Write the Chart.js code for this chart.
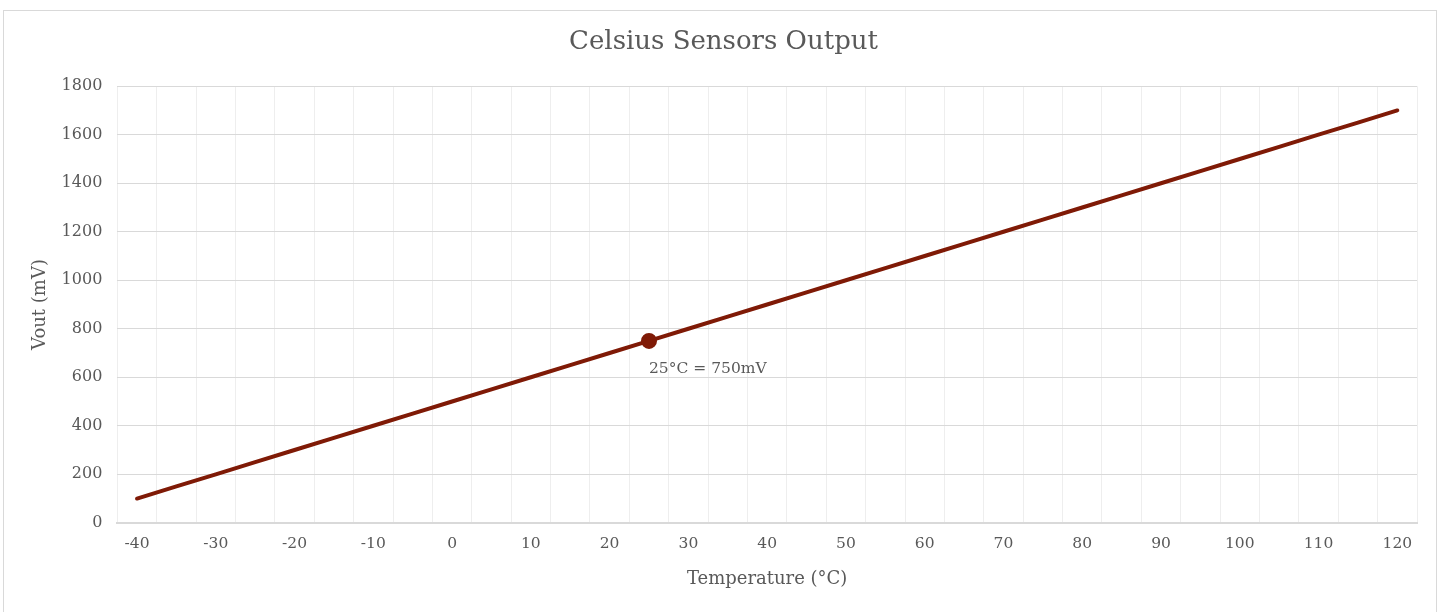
<!DOCTYPE html>
<html>
<head>
<meta charset="utf-8">
<script src="https://cdn.jsdelivr.net/npm/chart.js@4"></script>
<style>
  html, body { margin: 0; padding: 0; background: #fff; }
  #box {
    position: absolute; left: 3px; top: 10px;
    width: 1434px; height: 620px;
    border: 1px solid #d9d9d9; box-sizing: border-box;
  }
</style>
</head>
<body>
<div id="box"><canvas id="chart"></canvas></div>
<script>
// Celsius sensor output, every 5 degrees
const temps = [-40, -35, -30, -25, -20, -15, -10, -5, 0, 5, 10, 15, 20, 25, 30, 35, 40,
  45, 50, 55, 60, 65, 70, 75, 80, 85, 90, 95, 100, 105, 110, 115, 120];
const vout = [100, 150, 200, 250, 300, 350, 400, 450, 500, 550, 600, 650, 700, 750, 800, 850, 900,
  950, 1000, 1050, 1100, 1150, 1200, 1250, 1300, 1350, 1400, 1450, 1500, 1550, 1600, 1650, 1700];
const markTemp = 25;
const markLabel = '25°C = 750mV';

const FONT = "'DejaVu Serif', 'Liberation Serif', serif";
const TEXT = '#595959';
const LINE = '#7f1a06';

const markIdx = temps.indexOf(markTemp);

// --- annotation for the 25°C point ---
const markLabelPlugin = {
  id: 'markLabel',
  afterDatasetsDraw(chart) {
    const pt = chart.getDatasetMeta(0).data[markIdx];
    if (!pt) return;
    const ctx = chart.ctx;
    ctx.save();
    ctx.font = '15.5px ' + FONT;
    ctx.fillStyle = TEXT;
    ctx.textAlign = 'left';
    ctx.textBaseline = 'middle';
    ctx.fillText(markLabel, pt.x, pt.y + 28);
    ctx.restore();
  }
};

new Chart(document.getElementById('chart'), {
  type: 'line',
  data: {
    labels: temps.map(String),
    datasets: [{
      data: vout,
      borderColor: LINE,
      backgroundColor: LINE,
      borderWidth: 4,
      borderCapStyle: 'round',
      pointRadius: temps.map((t, i) => i === markIdx ? 6 : 0),
      pointHoverRadius: 0,
      tension: 0,
    }]
  },
  options: {
    responsive: true,
    maintainAspectRatio: false,
    animation: false,
    layout: { padding: { left: 26, right: 19, top: 16, bottom: 35 } },
    plugins: {
      legend: { display: false },
      tooltip: { enabled: false },
      title: {
        display: true,
        text: 'Celsius Sensors Output',
        color: TEXT,
        font: { family: FONT, size: 26, weight: 'normal' },
        padding: { top: 0, bottom: 28 }
      }
    },
    scales: {
      x: {
        offset: true,
        grid: { offset: true, color: '#eeeeee', drawTicks: false },
        border: { color: '#d9d9d9', width: 2 },
        ticks: {
          autoSkip: false,
          maxRotation: 0,
          padding: 12,
          color: TEXT,
          font: { family: FONT, size: 15.5 },
          callback: (v, i) => i % 2 === 0 ? temps[i] : ''
        },
        title: {
          display: true,
          text: 'Temperature (°C)',
          color: TEXT,
          font: { family: FONT, size: 18 },
          padding: { top: 3 }
        }
      },
      y: {
        min: 0,
        max: 1800,
        grid: { color: '#d9d9d9', drawTicks: false },
        border: { display: false },
        ticks: {
          stepSize: 200,
          padding: 15,
          color: TEXT,
          font: { family: FONT, size: 16 },
          callback: v => String(v)
        },
        title: {
          display: true,
          text: 'Vout (mV)',
          color: TEXT,
          font: { family: FONT, size: 18 },
          padding: { top: 0, bottom: -5 }
        }
      }
    }
  },
  plugins: [markLabelPlugin]
});
</script>
</body>
</html>
